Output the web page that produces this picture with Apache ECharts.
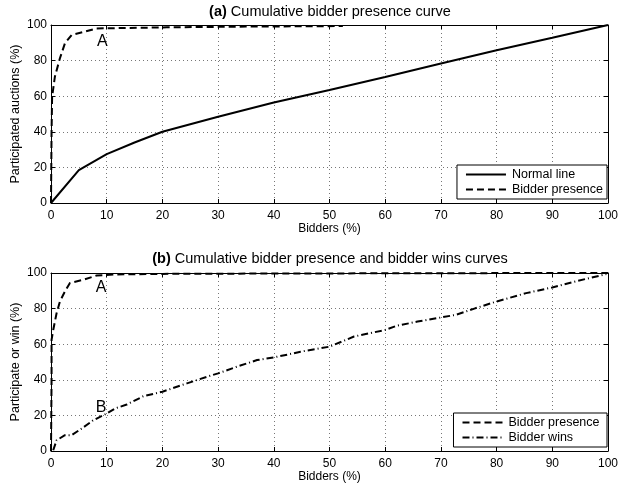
<!DOCTYPE html>
<html>
<head>
<meta charset="utf-8">
<script src="https://cdn.jsdelivr.net/npm/echarts@6/dist/echarts.min.js"></script>
<style>
  html, body { margin: 0; padding: 0; background: #fff; }
  #chart { width: 619px; height: 487px; }
</style>
</head>
<body>
<div id="chart"></div>
<script>
  // (a) normal line
  var normalLine = [[0, 0], [5, 18.5], [10, 27.5], [15, 34], [20, 40], [30, 48.5], [40, 56.5],
    [50, 63.5], [60, 70.8], [70, 78.4], [80, 85.8], [90, 92.8], [100, 100]];
  // (a) bidder presence
  var presenceA = [[0, 0], [0.1, 40], [0.2, 59.7], [0.7, 71], [1.6, 81.3], [2.5, 89.7], [3.7, 94.4],
    [6, 96.2], [8.2, 98.1], [11.2, 98.2], [20.8, 98.7], [35, 99.1], [52.4, 99.4]];
  // (b) bidder presence
  var presenceB = [[0, 0], [0.1, 40], [0.1, 62.4], [0.4, 68], [1.0, 77.4], [1.6, 84], [2.5, 89.6],
    [3.4, 94.4], [5.8, 96.2], [8.2, 98.6], [11.8, 99.2], [20, 99.5], [40, 99.7], [70, 99.9], [100, 100]];
  // (b) bidder wins
  var winsB = [[0.4, 0.4], [1.0, 6], [2.5, 8.9], [3.7, 8.9], [5.5, 12.6], [7.6, 17.3], [10, 21],
    [11.5, 23.9], [13.6, 26.1], [16.6, 30.8], [20, 33.3], [24.4, 38], [28, 41.7], [30, 43.6],
    [33.4, 47.4], [37, 51.1], [40, 52.6], [43.6, 54.9], [44.8, 55.8], [50, 58.6], [54.4, 64.3],
    [60, 68], [62, 70.3], [65.8, 72.7], [70, 75], [72.7, 76.5], [76, 80], [80, 84], [85.3, 88.7],
    [90, 91.9], [94.2, 95.3], [99.7, 99.4]];
  var labelsA = [[9.2, 90.5, 'A']];
  var labelsB = [[9, 92, 'A'], [9, 24.6, 'B']];

  var font = 'Liberation Sans, Arial, sans-serif';
  var chart = echarts.init(document.getElementById('chart'));

  function mainX(gi) {
    return {
      type: 'value', gridIndex: gi, min: 0, max: 100, interval: 10,
      name: 'Bidders (%)', nameLocation: 'middle', nameGap: 20, nameMoveOverlap: false,
      nameTextStyle: { color: '#000', fontFamily: font, fontSize: 12 },
      axisLine: { onZero: false, lineStyle: { color: '#000', width: 1 } },
      axisTick: { inside: true, length: 4, lineStyle: { color: '#000' } },
      axisLabel: { color: '#000', fontFamily: font, fontSize: 12, margin: 7 },
      splitLine: { show: true, lineStyle: { color: '#777', type: [1, 3], width: 1 } }
    };
  }
  function mainY(gi, name) {
    return {
      type: 'value', gridIndex: gi, min: 0, max: 100, interval: 20,
      name: name, nameLocation: 'middle', nameGap: 29, nameMoveOverlap: false,
      nameTextStyle: { color: '#000', fontFamily: font, fontSize: 12.5 },
      axisLine: { onZero: false, lineStyle: { color: '#000', width: 1 } },
      axisTick: { inside: true, length: 4, lineStyle: { color: '#000' } },
      axisLabel: { color: '#000', fontFamily: font, fontSize: 12, margin: 4 },
      splitLine: { show: true, lineStyle: { color: '#777', type: [1, 3], width: 1 } }
    };
  }
  function boxX(gi) {
    return {
      type: 'value', gridIndex: gi, min: 0, max: 100, interval: 10, position: 'top',
      axisLine: { onZero: false, lineStyle: { color: '#000', width: 1 } },
      axisTick: { inside: true, length: 4, lineStyle: { color: '#000' } },
      axisLabel: { show: false }, splitLine: { show: false }
    };
  }
  function boxY(gi) {
    return {
      type: 'value', gridIndex: gi, min: 0, max: 100, interval: 20, position: 'right',
      axisLine: { onZero: false, lineStyle: { color: '#000', width: 1 } },
      axisTick: { inside: true, length: 4, lineStyle: { color: '#000' } },
      axisLabel: { show: false }, splitLine: { show: false }
    };
  }
  function lineSeries(name, data, xi, yi, type) {
    return {
      name: name, type: 'line', data: data, xAxisIndex: xi, yAxisIndex: yi,
      symbol: 'none', smooth: false, animation: false,
      lineStyle: { color: '#000', width: 2, type: type },
      itemStyle: { color: '#000' }
    };
  }
  function textSeries(data, xi, yi) {
    return {
      type: 'scatter', data: data, xAxisIndex: xi, yAxisIndex: yi, symbolSize: 1,
      silent: true, animation: false, itemStyle: { color: '#fff', opacity: 1 },
      label: { show: true, position: 'inside', color: '#000', opacity: 1, textBorderWidth: 0,
        fontFamily: font, fontSize: 16, formatter: function (p) { return p.data[2]; } }
    };
  }

  var legendCommon = {
    orient: 'vertical', right: 12, itemWidth: 40, itemHeight: 12, itemGap: 2,
    padding: [3, 4, 3, 8], borderColor: '#000', borderWidth: 1, backgroundColor: '#fff',
    itemStyle: { opacity: 0 },
    textStyle: { color: '#000', fontFamily: font, fontSize: 12.5, padding: [0, 0, 0, 1] },
    selectedMode: false
  };
  var titleStyle = {
    fontFamily: font, fontSize: 14.5, fontWeight: 'normal', color: '#000',
    rich: { b: { fontFamily: font, fontSize: 14.5, fontWeight: 'bold', color: '#000' } }
  };

  var option = {
    backgroundColor: '#fff',
    title: [
      { text: '{b|(a)} Cumulative bidder presence curve', left: 330, top: 4, textAlign: 'center',
        padding: 0, textStyle: titleStyle },
      { text: '{b|(b)} Cumulative bidder presence and bidder wins curves', left: 330, top: 251, textAlign: 'center',
        padding: 0, textStyle: titleStyle }
    ],
    grid: [
      { left: 51, top: 25, width: 557, height: 178, outerBoundsMode: 'none', containLabel: false },
      { left: 51, top: 273, width: 557, height: 178, outerBoundsMode: 'none', containLabel: false }
    ],
    xAxis: [mainX(0), mainX(1), boxX(0), boxX(1)],
    yAxis: [mainY(0, 'Participated auctions (%)'), mainY(1, 'Participate or win (%)'), boxY(0), boxY(1)],
    legend: [
      Object.assign({ top: 165, data: ['Normal line', 'Bidder presence'] }, legendCommon),
      Object.assign({ top: 413, data: ['Bidder presence ', 'Bidder wins'] }, legendCommon)
    ],
    series: [
      lineSeries('Normal line', normalLine, 0, 0, 'solid'),
      lineSeries('Bidder presence', presenceA, 0, 0, [7, 4]),
      lineSeries('Bidder presence ', presenceB, 1, 1, [7, 4]),
      lineSeries('Bidder wins', winsB, 1, 1, [7, 3, 1, 3]),
      textSeries(labelsA, 0, 0),
      textSeries(labelsB, 1, 1)
    ]
  };
  chart.setOption(option);
</script>
</body>
</html>
